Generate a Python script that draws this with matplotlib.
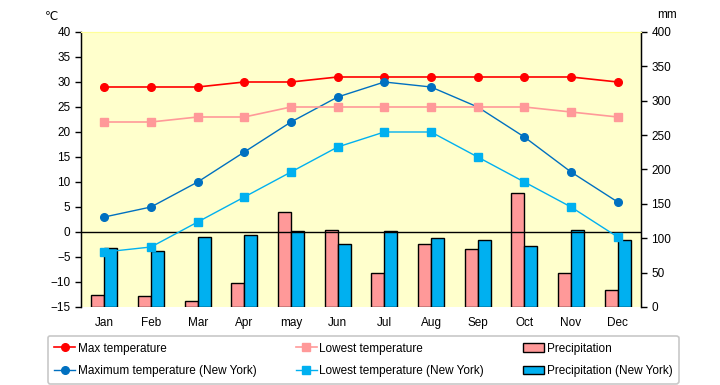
import matplotlib.pyplot as plt
import numpy as np

months = ["Jan", "Feb", "Mar", "Apr", "may", "Jun", "Jul", "Aug", "Sep", "Oct", "Nov", "Dec"]
max_temp = [29, 29, 29, 30, 30, 31, 31, 31, 31, 31, 31, 30]
low_temp = [22, 22, 23, 23, 25, 25, 25, 25, 25, 25, 24, 23]
precip = [18, 16, 9, 35, 138, 112, 50, 91, 85, 166, 50, 24]
ny_max_temp = [3, 5, 10, 16, 22, 27, 30, 29, 25, 19, 12, 6]
ny_low_temp = [-4, -3, 2, 7, 12, 17, 20, 20, 15, 10, 5, -1]
ny_precip = [86, 82, 102, 105, 111, 92, 110, 101, 98, 89, 112, 98]

plt.rcParams['font.family'] = ['Liberation Sans', 'DejaVu Sans']

fig = plt.figure(figsize=(7.2, 3.85), dpi=100)
ax1 = fig.add_axes([0.1125, 0.2026, 0.7778, 0.7143])
ax2 = ax1.twinx()
ax1.set_zorder(ax2.get_zorder() + 1)
ax1.patch.set_visible(False)
ax2.patch.set_visible(True)
ax2.patch.set_facecolor('#FFFFCC')

x = np.arange(len(months))
w = 0.28

# Niederschlag (rechte Achse)
ax2.bar(x - w / 2, precip, w, color='#FF9999', edgecolor='black', linewidth=1.0,
        label='Precipitation')
ax2.bar(x + w / 2, ny_precip, w, color='#00B0F0', edgecolor='black', linewidth=1.0,
        label='Precipitation (New York)')
ax2.set_ylim(0, 400)
ax2.set_yticks(np.arange(0, 401, 50))

# Temperaturen (linke Achse)
ax1.axhline(0, color='black', linewidth=1.0, zorder=1)
ax1.plot(x, max_temp, color='#FF0000', marker='o', markersize=5.5, linewidth=1.2,
         label='Max temperature')
ax1.plot(x, ny_max_temp, color='#0070C0', marker='o', markersize=5.5, linewidth=1.0,
         label='Maximum temperature (New York)')
ax1.plot(x, low_temp, color='#FF9999', marker='s', markersize=5.5, linewidth=1.2,
         label='Lowest temperature')
ax1.plot(x, ny_low_temp, color='#00B0F0', marker='s', markersize=5.5, linewidth=1.0,
         label='Lowest temperature (New York)')
ax1.set_ylim(-15, 40)
ax1.set_yticks(np.arange(-15, 41, 5))
ax1.set_xlim(-0.5, len(months) - 0.5)
ax1.set_xticks(x)
ax1.set_xticklabels(months)

for a in (ax1, ax2):
    a.spines['top'].set_color('#FFFF99')
    a.spines['bottom'].set_visible(False)
    a.tick_params(labelsize=8.5, length=4, width=1.0, color='black')
ax1.tick_params(axis='x', length=0, pad=7)
ax1.spines['left'].set_linewidth(1.0)
ax2.spines['right'].set_linewidth(1.0)

fig.text(0.072, 0.955, '℃', fontsize=8.5, ha='center', va='center')
fig.text(0.927, 0.962, 'mm', fontsize=8.5, ha='center', va='center')

h1, l1 = ax1.get_legend_handles_labels()
h2, l2 = ax2.get_legend_handles_labels()
leg = fig.legend(h1 + h2, l1 + l2, ncol=3, loc='lower left',
                 bbox_to_anchor=(0.058, -0.012, 0.893, 0.14), mode='expand',
                 fontsize=8.5, frameon=True, fancybox=True, edgecolor='#BBBBBB',
                 handlelength=1.8, handletextpad=0.2, borderpad=0.55,
                 labelspacing=0.9, columnspacing=1.0)
leg.get_frame().set_linewidth(1.2)

fig.savefig('out.png', dpi=100)
